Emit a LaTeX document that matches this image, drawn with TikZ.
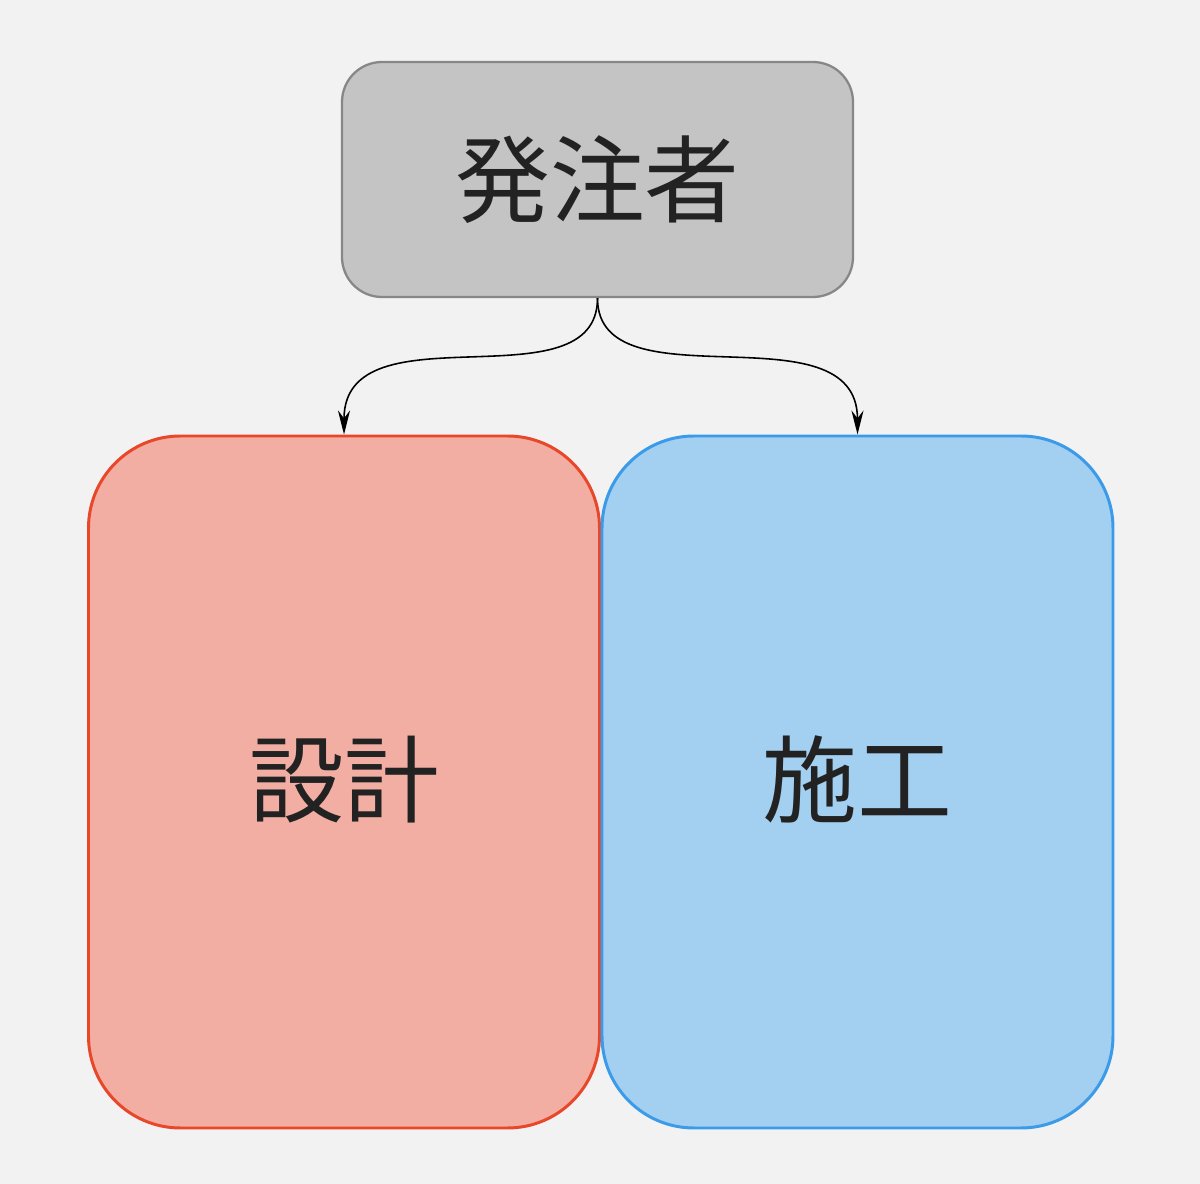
\documentclass[tikz,border=0pt]{standalone}
\usepackage{fontspec}
\setmainfont{Noto Sans CJK JP}
\usepackage{tikz}
\usetikzlibrary{positioning,arrows.meta,calc}

\definecolor{bgcol}{HTML}{F2F2F2}
\definecolor{clientfill}{HTML}{C4C4C4}
\definecolor{clientline}{HTML}{878787}
\definecolor{designfill}{HTML}{F2AEA2}
\definecolor{designline}{HTML}{E8472A}
\definecolor{buildfill}{HTML}{A3CFF0}
\definecolor{buildline}{HTML}{3C9BE8}
\definecolor{txtcol}{HTML}{222222}

\begin{document}
\begin{tikzpicture}[
            % Style for the client box
            clientbox/.style={draw=clientline, fill=clientfill, line width=0.65pt, rounded corners=0.4cm,
                minimum width=5.11cm, minimum height=2.35cm, font=\fontsize{27}{30}\selectfont, text=txtcol},
            % Style for the two big boxes
            bigbox/.style={line width=0.85pt, rounded corners=0.92cm,
                minimum width=5.11cm, minimum height=6.92cm, font=\fontsize{27}{30}\selectfont, text=txtcol},
            % Arrow style
            arr/.style={-{Stealth[length=2.4mm, width=1.2mm]}, line width=0.45pt}
        ]
            % --- background ---
            \fill[bgcol] (0, 0) rectangle (12, -11.84);
            \useasboundingbox (0, 0) rectangle (12, -11.84);

            % --- 1. client ---
            \node[clientbox] (client) at (5.975, -1.795) {発注者};

            % --- 2. design / construction ---
            \node[bigbox, draw=designline, fill=designfill] (design) at (3.44, -7.82) {\raisebox{1.2mm}{設計}};
            \node[bigbox, draw=buildline, fill=buildfill] (build) at (8.575, -7.82) {\raisebox{1.2mm}{施工}};

            % --- 3. arrows ---
            \draw[arr] (client.south) .. controls +(0, -1.1) and +(0, 1.3) .. (design.north);
            \draw[arr] (client.south) .. controls +(0, -1.1) and +(0, 1.3) .. (build.north);

        \end{tikzpicture}
\end{document}
